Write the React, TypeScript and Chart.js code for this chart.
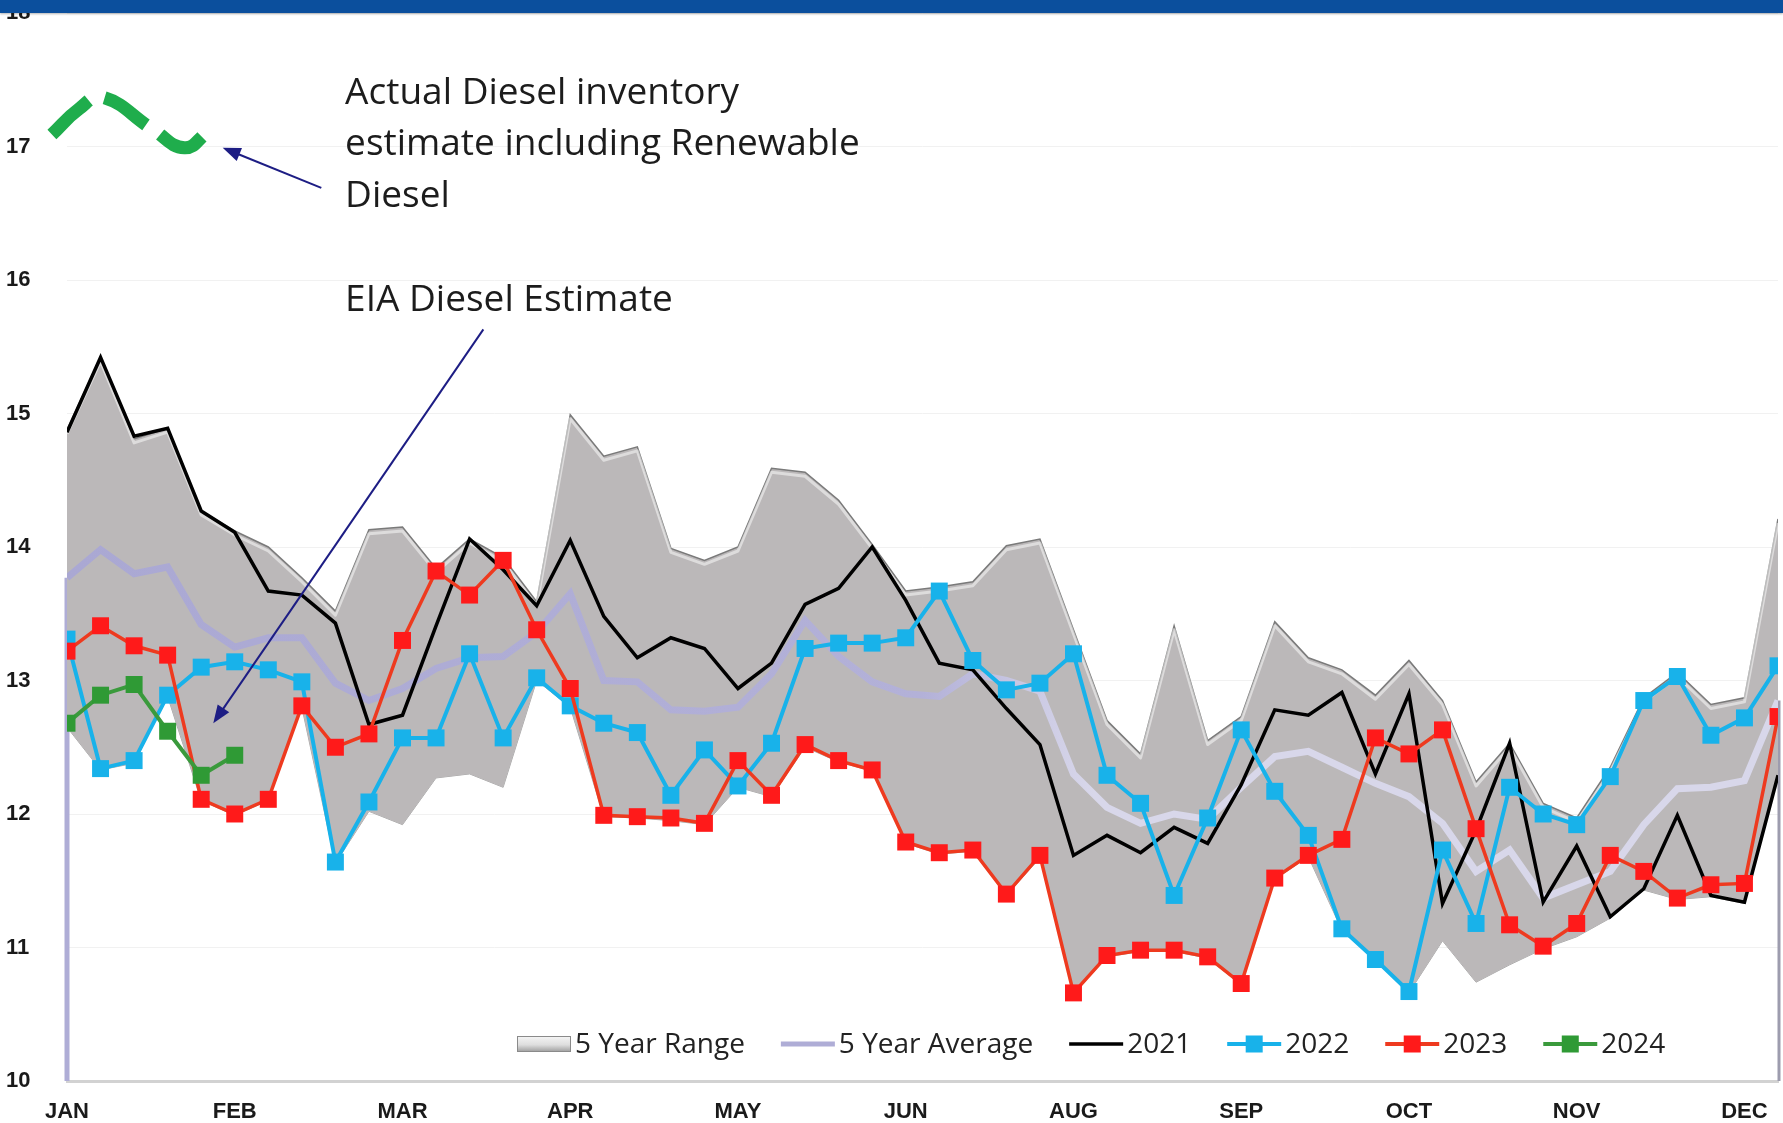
import React, { useEffect, useRef } from 'react';
import { Chart, registerables } from 'chart.js';

Chart.register(...registerables);

// ---------- data ----------
const WEEKS = Array.from({ length: 52 }, (_, i) => i);
const MONTH_TICKS = ['JAN', 'FEB', 'MAR', 'APR', 'MAY', 'JUN', 'AUG', 'SEP', 'OCT', 'NOV', 'DEC'];
const WEEKS_PER_TICK = 5;

const RANGE_HIGH = [
  14.88, 15.42, 14.81, 14.89, 14.27, 14.12, 14.0, 13.77, 13.52, 14.13,
  14.15, 13.84, 14.06, 13.92, 13.59, 14.99, 14.68, 14.75, 13.99, 13.9,
  14.0, 14.59, 14.56, 14.35, 14.02, 13.67, 13.7, 13.74, 14.01, 14.06,
  13.38, 12.7, 12.45, 13.41, 12.55, 12.73, 13.44, 13.17, 13.08, 12.89,
  13.15, 12.85, 12.24, 12.53, 12.08, 11.97, 12.35, 12.87, 13.06, 12.82,
  12.87, 14.21,
];
const RANGE_LOW = [
  12.65, 12.33, 12.38, 12.88, 12.1, 11.99, 12.1, 12.8, 11.63, 12.02,
  11.92, 12.27, 12.3, 12.2, 13.0, 12.8, 11.98, 11.97, 11.95, 11.92,
  12.2, 12.13, 12.5, 12.39, 12.32, 11.78, 11.7, 11.72, 11.39, 11.67,
  10.65, 10.93, 10.97, 10.97, 10.92, 10.72, 11.51, 11.68, 11.13, 10.9,
  10.66, 11.05, 10.74, 10.87, 10.99, 11.08, 11.22, 11.43, 11.36, 11.38,
  11.33, 12.28,
];
const AVG_5Y = [
  13.77, 13.98, 13.8, 13.85, 13.42, 13.25, 13.32, 13.32, 12.98, 12.85,
  12.94, 13.09, 13.17, 13.18, 13.36, 13.65, 13.0, 12.99, 12.78, 12.77,
  12.8, 13.05, 13.45, 13.18, 12.99, 12.9, 12.88, 13.05, 13.0, 12.92,
  12.3, 12.05, 11.93, 12.0, 11.96, 12.2, 12.43, 12.47, 12.35, 12.23,
  12.13, 11.93, 11.57, 11.73, 11.37, 11.47, 11.57, 11.92, 12.19, 12.2,
  12.25, 12.85,
];
const Y2021 = [
  14.86, 15.42, 14.83, 14.89, 14.27, 14.11, 13.67, 13.64, 13.43, 12.67,
  12.74, 13.41, 14.06, 13.83, 13.56, 14.05, 13.48, 13.17, 13.32, 13.24,
  12.94, 13.13, 13.57, 13.69, 14.0, 13.6, 13.13, 13.08, 12.79, 12.52,
  11.69, 11.84, 11.71, 11.9, 11.78, 12.22, 12.78, 12.74, 12.91, 12.3,
  12.9, 11.33, 11.88, 12.53, 11.34, 11.76, 11.23, 11.44, 11.99, 11.39,
  11.34, 12.29,
];
const Y2022 = [
  13.31, 12.34, 12.4, 12.89, 13.1, 13.14, 13.08, 12.99, 11.64, 12.09,
  12.57, 12.57, 13.2, 12.57, 13.02, 12.81, 12.68, 12.61, 12.14, 12.48,
  12.21, 12.53, 13.24, 13.28, 13.28, 13.32, 13.67, 13.15, 12.93, 12.98,
  13.2, 12.29, 12.08, 11.39, 11.97, 12.63, 12.17, 11.84, 11.14, 10.91,
  10.67, 11.73, 11.18, 12.2, 12.0, 11.92, 12.28, 12.85, 13.03, 12.59,
  12.72, 13.11,
];
const Y2023 = [
  13.22, 13.41, 13.26, 13.19, 12.11, 12.0, 12.11, 12.81, 12.5, 12.6,
  13.3, 13.82, 13.64, 13.9, 13.38, 12.94, 11.99, 11.98, 11.97, 11.93,
  12.4, 12.14, 12.52, 12.4, 12.33, 11.79, 11.71, 11.73, 11.4, 11.69,
  10.66, 10.94, 10.98, 10.98, 10.93, 10.73, 11.52, 11.69, 11.81, 12.57,
  12.45, 12.63, 11.89, 11.17, 11.01, 11.18, 11.69, 11.57, 11.37, 11.47,
  11.48, 12.73,
];
const Y2024 = [12.68, 12.89, 12.97, 12.62, 12.29, 12.44];

// hand-drawn "actual incl. renewable diesel" estimate (week position, value)
const ACTUAL_WEEK = [-0.45, 0.35, 1.05, 2.55, 3.5, 4.2];
const ACTUAL_VALUE = [17.09, 17.28, 17.37, 17.13, 16.99, 17.11];

// annotations (in data units)
const NOTE_ACTUAL = ['Actual Diesel inventory', 'estimate including Renewable', 'Diesel'];
const NOTE_ACTUAL_Y = [17.4, 17.015, 16.625];
const NOTE_EIA = 'EIA Diesel Estimate';
const NOTE_EIA_Y = 15.85;
const NOTE_X = 8.29;
const ARROW_ACTUAL = { from: [7.58, 16.69], to: [4.64, 16.99] };
const ARROW_EIA = { from: [12.41, 15.63], to: [4.36, 12.68] };

// ---------- styles ----------
const TICK_FONT = { family: '"Liberation Sans", Arial, sans-serif', weight: 'bold' as const, size: 22 };
const TEXT_FONT = '"Open Sans", "Liberation Sans", sans-serif';
const CYAN = '#18b2ea';
const RED_LINE = '#ee3a1f';
const RED_PT = '#ff1a1a';
const GREEN_LINE = '#3a9a3c';
const GREEN_PT = '#2f9a35';
const AVG_COLOR = '#afadd6';
const ARROW_COLOR = '#1d1d84';

function drawArrow(ctx: CanvasRenderingContext2D, x1: number, y1: number, x2: number, y2: number) {
  const ang = Math.atan2(y2 - y1, x2 - x1);
  const head = 18;
  const half = 7;
  ctx.save();
  ctx.strokeStyle = ARROW_COLOR;
  ctx.fillStyle = ARROW_COLOR;
  ctx.lineWidth = 2;
  ctx.beginPath();
  ctx.moveTo(x1, y1);
  ctx.lineTo(x2 - Math.cos(ang) * head * 0.8, y2 - Math.sin(ang) * head * 0.8);
  ctx.stroke();
  ctx.beginPath();
  ctx.moveTo(x2, y2);
  ctx.lineTo(x2 - Math.cos(ang) * head - Math.sin(ang) * half, y2 - Math.sin(ang) * head + Math.cos(ang) * half);
  ctx.lineTo(x2 - Math.cos(ang) * head + Math.sin(ang) * half, y2 - Math.sin(ang) * head - Math.cos(ang) * half);
  ctx.closePath();
  ctx.fill();
  ctx.restore();
}

const overlayPlugin = {
  id: 'overlay',
  beforeDatasetsDraw(chart: any) {
    const { ctx, chartArea } = chart;
    const idx = chart.data.datasets.findIndex((d: any) => d.label === '5 Year Average');
    const meta = chart.getDatasetMeta(idx);
    const first = meta.data[0];
    const last = meta.data[meta.data.length - 1];
    ctx.save();
    ctx.strokeStyle = AVG_COLOR;
    ctx.lineWidth = 5;
    ctx.beginPath();
    ctx.moveTo(first.x, first.y);
    ctx.lineTo(first.x, chartArea.bottom);
    ctx.stroke();
    ctx.strokeStyle = '#9d9cae';
    ctx.lineWidth = 3;
    ctx.beginPath();
    ctx.moveTo(last.x + 1, last.y);
    ctx.lineTo(last.x + 1, chartArea.bottom);
    ctx.stroke();
    ctx.restore();
  },
  afterDatasetDraw(chart: any, args: any) {
    // soft bevel highlight just under the top edge of the range area
    if (chart.data.datasets[args.index].legendIcon !== 'box') return;
    const { ctx, chartArea } = chart;
    const pts = args.meta.data;
    ctx.save();
    ctx.beginPath();
    ctx.rect(chartArea.left, chartArea.top, chartArea.right - chartArea.left, chartArea.bottom - chartArea.top);
    ctx.clip();
    ctx.strokeStyle = 'rgba(255,255,255,0.5)';
    ctx.lineWidth = 3;
    ctx.lineJoin = 'round';
    ctx.beginPath();
    pts.forEach((p: any, i: number) => (i ? ctx.lineTo(p.x, p.y + 4) : ctx.moveTo(p.x, p.y + 4)));
    ctx.stroke();
    ctx.restore();
  },
  afterDatasetsDraw(chart: any) {
    const { ctx, chartArea } = chart;
    const xs = chart.scales.x;
    const ys = chart.scales.y;
    ctx.save();
    // annotation texts
    ctx.font = `37px ${TEXT_FONT}`;
    ctx.fillStyle = '#1c1c1c';
    ctx.textAlign = 'left';
    ctx.textBaseline = 'middle';
    NOTE_ACTUAL.forEach((t, i) => ctx.fillText(t, xs.getPixelForValue(NOTE_X), ys.getPixelForValue(NOTE_ACTUAL_Y[i])));
    ctx.fillText(NOTE_EIA, xs.getPixelForValue(NOTE_X), ys.getPixelForValue(NOTE_EIA_Y));
    for (const a of [ARROW_ACTUAL, ARROW_EIA]) {
      drawArrow(
        ctx,
        xs.getPixelForValue(a.from[0]), ys.getPixelForValue(a.from[1]),
        xs.getPixelForValue(a.to[0]), ys.getPixelForValue(a.to[1]),
      );
    }

    // legend
    const items = chart.data.datasets.filter((d: any) => d.legendIcon);
    let x = chartArea.left + 450;
    const y = chartArea.bottom - 37;
    const iconW = 54;
    ctx.font = `28px ${TEXT_FONT}`;
    for (const ds of items) {
      if (ds.legendIcon === 'box') {
        const g = ctx.createLinearGradient(0, y - 8, 0, y + 8);
        g.addColorStop(0, '#f6f6f6');
        g.addColorStop(0.55, '#dedede');
        g.addColorStop(1, '#9c9c9c');
        ctx.fillStyle = g;
        ctx.fillRect(x, y - 8, iconW, 16);
        ctx.strokeStyle = '#8a8a8a';
        ctx.lineWidth = 1;
        ctx.strokeRect(x + 0.5, y - 7.5, iconW - 1, 15);
      } else {
        ctx.strokeStyle = ds.legendColor;
        ctx.lineWidth = ds.legendIcon === 'line' ? Math.min(ds.borderWidth, 5) : 4;
        ctx.beginPath();
        ctx.moveTo(x, y);
        ctx.lineTo(x + iconW, y);
        ctx.stroke();
        if (ds.legendIcon === 'marker') {
          ctx.fillStyle = ds.pointBackgroundColor;
          ctx.fillRect(x + iconW / 2 - 8.5, y - 8.5, 17, 17);
        }
      }
      x += iconW + 4;
      ctx.fillStyle = '#222';
      ctx.fillText(ds.label, x, y + 1);
      x += ctx.measureText(ds.label).width + 36;
    }
    ctx.restore();
  },
};

export default function App() {
  const canvasRef = useRef<HTMLCanvasElement>(null);

  useEffect(() => {
    document.body.style.margin = '0';
    const canvas = canvasRef.current;
    if (!canvas) return;

    const square = {
      pointStyle: 'rect',
      pointRadius: 12,
      pointBorderWidth: 0,
    };

    const avgGradient = (c: any) => {
      const { chartArea, ctx } = c.chart;
      if (!chartArea) return AVG_COLOR;
      const g = ctx.createLinearGradient(chartArea.left, 0, chartArea.right, 0);
      g.addColorStop(0, '#aaa8d3');
      g.addColorStop(0.5, '#b3b1d8');
      g.addColorStop(0.6, '#d8d7ea');
      g.addColorStop(1, '#d8d7ea');
      return g;
    };

    const chart = new Chart(canvas, {
      type: 'line',
      data: {
        labels: WEEKS,
        datasets: [
          {
            label: '5 Year Range',
            data: RANGE_HIGH,
            borderColor: '#7a7a7a',
            borderWidth: 1.5,
            backgroundColor: '#bbb8b9',
            fill: '+1',
            pointRadius: 0,
            order: 6,
            legendIcon: 'box',
          },
          {
            label: '5 Year Range low',
            data: RANGE_LOW,
            borderColor: '#a8a8a8',
            borderWidth: 1,
            fill: false,
            pointRadius: 0,
            order: 7,
          },
          {
            label: '5 Year Average',
            data: AVG_5Y,
            borderColor: avgGradient,
            legendColor: AVG_COLOR,
            borderWidth: 7,
            pointRadius: 0,
            fill: false,
            order: 5,
            legendIcon: 'line',
          },
          {
            label: '2021',
            data: Y2021,
            borderColor: '#000000',
            legendColor: '#000000',
            borderWidth: 3.5,
            pointRadius: 0,
            fill: false,
            order: 4,
            legendIcon: 'line',
          },
          {
            label: '2022',
            data: Y2022,
            borderColor: CYAN,
            legendColor: CYAN,
            borderWidth: 4,
            pointBackgroundColor: CYAN,
            ...square,
            fill: false,
            order: 3,
            legendIcon: 'marker',
          },
          {
            label: '2023',
            data: Y2023,
            borderColor: RED_LINE,
            legendColor: RED_LINE,
            borderWidth: 3.5,
            pointBackgroundColor: RED_PT,
            ...square,
            fill: false,
            order: 2,
            legendIcon: 'marker',
          },
          {
            label: '2024',
            data: Y2024,
            borderColor: GREEN_LINE,
            legendColor: GREEN_LINE,
            borderWidth: 4,
            pointBackgroundColor: GREEN_PT,
            ...square,
            fill: false,
            order: 1,
            legendIcon: 'marker',
          },
          {
            label: 'Actual incl. Renewable Diesel',
            data: ACTUAL_WEEK.map((w, i) => ({ x: w, y: ACTUAL_VALUE[i] })),
            borderColor: '#1fad4c',
            borderWidth: 13,
            borderDash: [50, 17],
            borderCapStyle: 'butt',
            tension: 0.45,
            pointRadius: 0,
            fill: false,
            clip: false,
            order: 0,
          },
        ] as any,
      },
      options: {
        responsive: false,
        maintainAspectRatio: false,
        animation: false,
        devicePixelRatio: 1,
        events: [],
        layout: { autoPadding: false, padding: { left: 6, right: 5, top: 13, bottom: 0 } },
        elements: { line: { tension: 0 } },
        plugins: {
          legend: { display: false },
          tooltip: { enabled: false },
        },
        scales: {
          x: {
            type: 'linear',
            min: 0,
            max: 51,
            grid: { display: false, drawTicks: true, tickLength: 18 },
            border: { display: true, color: '#d2d2d2', width: 3 },
            ticks: {
              stepSize: WEEKS_PER_TICK,
              includeBounds: false,
              autoSkip: false,
              maxRotation: 0,
              padding: 0,
              font: TICK_FONT,
              color: '#1a1a1a',
              callback: (v: any) => MONTH_TICKS[Math.round(Number(v) / WEEKS_PER_TICK)] ?? '',
            },
            afterFit: (s: any) => {
              s.height = 42;
              s.paddingLeft = 0;
              s.paddingRight = 0;
            },
          },
          y: {
            min: 10,
            max: 18,
            grid: { color: '#f1f1f1', drawTicks: false },
            border: { display: false },
            ticks: {
              stepSize: 1,
              crossAlign: 'far',
              padding: 0,
              font: TICK_FONT,
              color: '#1a1a1a',
            },
            afterFit: (s: any) => {
              s.width = 61;
              s.paddingTop = 0;
              s.paddingBottom = 0;
            },
          },
        },
      } as any,
      plugins: [overlayPlugin],
    });

    return () => chart.destroy();
  }, []);

  return (
    <div style={{ position: 'relative', width: 1783, height: 1123, overflow: 'hidden', background: '#ffffff' }}>
      <canvas ref={canvasRef} width={1783} height={1123} style={{ display: 'block' }} />
      <div
        style={{
          position: 'absolute',
          left: 0,
          top: 0,
          width: '100%',
          height: 13,
          background: '#0b4f9d',
          boxShadow: '0 1px 2px rgba(0,0,0,0.3)',
        }}
      />
    </div>
  );
}
